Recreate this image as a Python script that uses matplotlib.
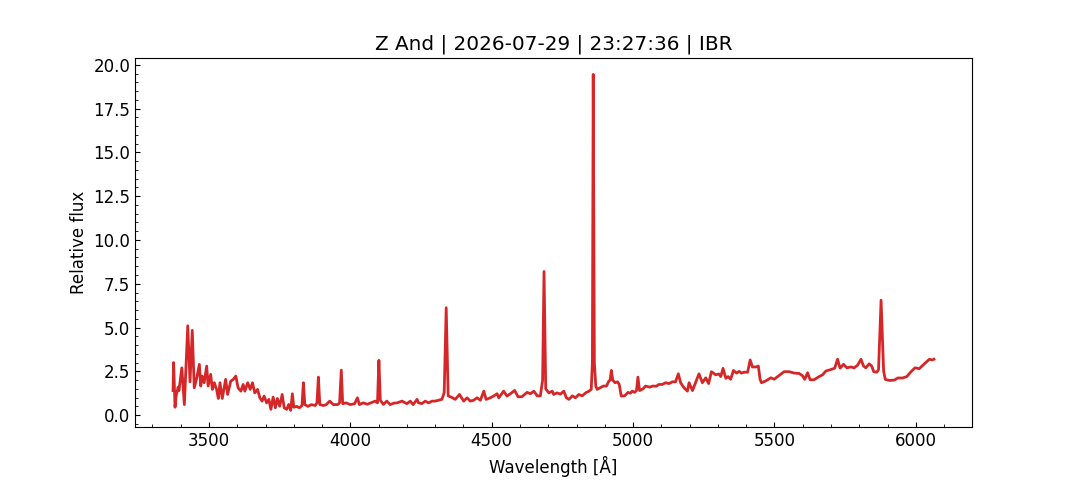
import matplotlib
matplotlib.use("Agg")
import matplotlib.pyplot as plt
from matplotlib.ticker import AutoMinorLocator

# spectrum of Z And (rows of 10)
wavelength = [
    3373, 3375, 3380, 3384, 3391, 3394, 3404, 3413, 3425, 3433,
    3441, 3448, 3457, 3466, 3471, 3476, 3483, 3492, 3497, 3506,
    3512, 3519, 3527, 3533, 3539, 3547, 3559, 3566, 3577, 3586,
    3595, 3603, 3613, 3621, 3627, 3637, 3646, 3654, 3662, 3672,
    3680, 3688, 3695, 3704, 3712, 3719, 3727, 3735, 3742, 3750,
    3759, 3766, 3775, 3782, 3789, 3795, 3800, 3810, 3820, 3829,
    3834, 3839, 3850, 3862, 3876, 3882, 3887, 3892, 3905, 3915,
    3927, 3940, 3955, 3962, 3968, 3973, 3985, 4000, 4015, 4025,
    4032, 4045, 4060, 4075, 4088, 4096, 4101, 4106, 4117, 4129,
    4141, 4153, 4165, 4183, 4200, 4212, 4222, 4236, 4241, 4253,
    4265, 4277, 4289, 4300, 4312, 4324, 4332, 4339, 4346, 4360,
    4371, 4386, 4401, 4413, 4424, 4436, 4448, 4460, 4472, 4480,
    4495, 4507, 4519, 4525, 4542, 4554, 4566, 4581, 4593, 4607,
    4625, 4637, 4649, 4661, 4672, 4680, 4685, 4691, 4702, 4714,
    4719, 4731, 4743, 4755, 4764, 4773, 4785, 4796, 4808, 4820,
    4832, 4844, 4852, 4856, 4859, 4863, 4868, 4873, 4883, 4895,
    4906, 4914, 4919, 4923, 4928, 4936, 4945, 4951, 4958, 4970,
    4982, 4990, 4997, 5005, 5012, 5017, 5023, 5035, 5044, 5058,
    5070, 5082, 5091, 5103, 5115, 5127, 5139, 5150, 5160, 5168,
    5180, 5192, 5198, 5210, 5233, 5245, 5257, 5267, 5277, 5292,
    5303, 5310, 5318, 5328, 5336, 5345, 5355, 5366, 5375, 5383,
    5393, 5405, 5414, 5422, 5434, 5443, 5449, 5454, 5469, 5487,
    5499, 5511, 5523, 5534, 5552, 5570, 5587, 5599, 5607, 5617,
    5626, 5640, 5658, 5670, 5682, 5699, 5713, 5723, 5732, 5744,
    5756, 5770, 5782, 5794, 5806, 5815, 5823, 5835, 5844, 5851,
    5862, 5868, 5877, 5886, 5892, 5906, 5924, 5936, 5953, 5968,
    5983, 5997, 6012, 6030, 6048, 6058, 6064,
]
flux = [
    1.40, 3.00, 0.45, 1.10, 1.60, 1.40, 2.70, 0.60, 5.10, 1.90,
    4.84, 1.56, 2.13, 2.90, 1.66, 2.23, 1.85, 2.80, 1.66, 2.33,
    1.47, 1.85, 1.47, 0.95, 1.85, 0.95, 2.04, 1.18, 1.94, 2.04,
    2.23, 1.56, 1.37, 1.75, 1.37, 1.85, 1.47, 1.85, 1.27, 1.47,
    0.99, 0.80, 1.09, 0.70, 0.90, 0.33, 1.03, 0.42, 0.95, 0.51,
    1.18, 0.42, 0.33, 0.61, 0.27, 1.22, 0.45, 0.50, 0.42, 0.55,
    1.85, 0.60, 0.50, 0.60, 0.55, 0.70, 2.17, 0.60, 0.55, 0.60,
    0.80, 0.60, 0.60, 0.70, 2.57, 0.65, 0.70, 0.60, 0.65, 0.99,
    0.60, 0.70, 0.62, 0.72, 0.80, 0.70, 3.13, 0.85, 0.61, 0.80,
    0.60, 0.68, 0.70, 0.80, 0.65, 0.80, 0.60, 0.90, 0.70, 0.66,
    0.80, 0.70, 0.80, 0.80, 0.85, 0.90, 1.30, 6.13, 1.10, 1.00,
    0.90, 1.18, 0.80, 0.99, 0.80, 0.85, 0.99, 0.85, 1.37, 0.90,
    0.99, 1.09, 1.22, 0.99, 1.37, 1.09, 1.22, 1.41, 1.05, 1.05,
    1.30, 1.22, 1.37, 1.10, 1.10, 2.00, 8.20, 1.50, 1.27, 1.37,
    1.18, 1.27, 1.20, 1.37, 0.99, 0.90, 1.10, 0.99, 1.18, 1.10,
    1.27, 1.37, 1.47, 3.00, 19.45, 3.00, 1.66, 1.47, 1.56, 1.66,
    1.66, 1.94, 2.00, 2.55, 2.00, 1.85, 1.90, 1.75, 1.09, 1.10,
    1.30, 1.25, 1.37, 1.30, 1.40, 2.17, 1.40, 1.50, 1.66, 1.60,
    1.66, 1.65, 1.75, 1.75, 1.85, 1.80, 1.90, 1.90, 2.36, 1.85,
    1.56, 1.37, 1.85, 1.40, 2.36, 1.85, 2.13, 1.80, 2.48, 2.30,
    2.35, 2.20, 2.67, 2.10, 2.20, 2.05, 2.55, 2.40, 2.50, 2.40,
    2.45, 2.45, 3.15, 2.75, 2.75, 2.80, 2.05, 1.85, 1.95, 2.13,
    2.05, 2.20, 2.35, 2.48, 2.48, 2.40, 2.38, 2.25, 2.04, 2.42,
    2.02, 2.02, 2.20, 2.30, 2.52, 2.60, 2.68, 3.19, 2.68, 2.90,
    2.70, 2.75, 2.70, 2.85, 3.19, 2.80, 2.70, 2.93, 2.80, 2.48,
    2.45, 2.60, 6.56, 2.50, 2.04, 1.98, 2.00, 2.12, 2.12, 2.20,
    2.48, 2.70, 2.65, 2.93, 3.19, 3.15, 3.19,
]

title = "Z And | 2026-07-29 | 23:27:36 | IBR"

fig, ax = plt.subplots(figsize=(10.8, 4.8), dpi=100)
ax.plot(wavelength, flux, color="tab:red", linewidth=2)

ax.set_title(title, fontsize=14.4)
ax.set_xlabel("Wavelength [Å]", fontsize=12)
ax.set_ylabel("Relative flux", fontsize=12)

ax.xaxis.set_minor_locator(AutoMinorLocator())
ax.yaxis.set_minor_locator(AutoMinorLocator())
ax.tick_params(which="both", direction="in", labelsize=12)

fig.savefig("out.png", dpi=100)
